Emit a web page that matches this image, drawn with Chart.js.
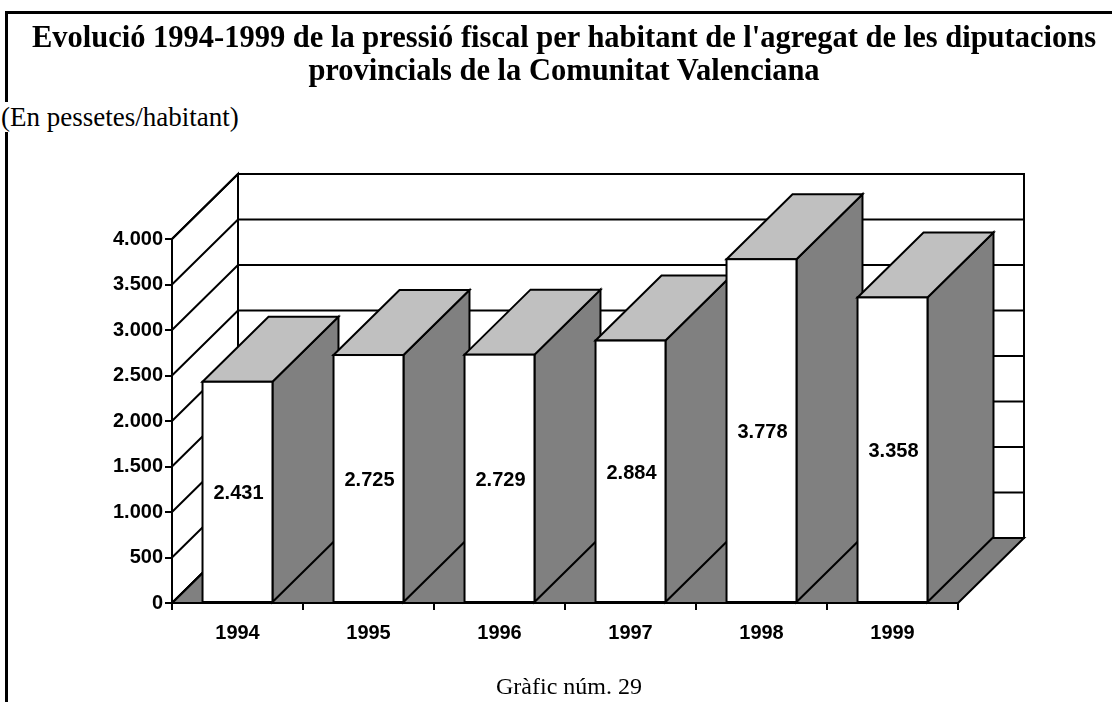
<!DOCTYPE html>
<html>
<head>
<meta charset="utf-8">
<script src="https://cdn.jsdelivr.net/npm/chart.js@4"></script>
<style>
  body { margin: 0; background: #fff; }
  #wrap { position: relative; width: 1112px; height: 702px; background: #fff; overflow: hidden; }
  #chart { position: absolute; left: 0; top: 0; }
  .frame { position: absolute; background: #000; }
  .txt { position: absolute; font-family: "Liberation Serif", "Times New Roman", serif; color: #000; white-space: nowrap; }
  #title { left: 0; width: 1128px; top: 21px; text-align: center; font-weight: bold; font-size: 30.5px; line-height: 33px; }
  #subtitle { left: 1px; top: 102px; font-size: 27px; line-height: 30px; background: #fff; }
  #caption { left: 0; width: 1138px; top: 672px; text-align: center; font-size: 24px; line-height: 28px; }
</style>
</head>
<body>
<div id="wrap">
  <div class="frame" style="left:5px;top:11px;width:1107px;height:3px"></div>
  <div class="frame" style="left:5px;top:11px;width:3px;height:691px"></div>
  <canvas id="chart" width="1112" height="702"></canvas>
  <div id="title" class="txt">Evolució 1994-1999 de la pressió fiscal per habitant de l'agregat de les diputacions<br>provincials de la Comunitat Valenciana</div>
  <div id="subtitle" class="txt">(En pessetes/habitant)</div>
  <div id="caption" class="txt">Gràfic núm. 29</div>
</div>
<script>
// data
const years = ['1994', '1995', '1996', '1997', '1998', '1999'];
const perHabitant = [2431, 2725, 2729, 2884, 3778, 3358];
const yMin = 0;
const yMax = 4000;
const yStep = 500;

// 3d look
const DX = 66, DY = -65;
const SIDE = '#808080', TOP = '#c0c0c0';
const axisFont = { family: "'Liberation Sans', Arial, sans-serif", size: 20, weight: 'bold' };

function fmt(v) {
    return String(v).replace(/\B(?=(\d{3})+(?!\d))/g, '.');
}

function poly(ctx, pts, fill) {
    ctx.beginPath();
    ctx.moveTo(pts[0][0], pts[0][1]);
    for (let i = 1; i < pts.length; i++) ctx.lineTo(pts[i][0], pts[i][1]);
    ctx.closePath();
    if (fill) { ctx.fillStyle = fill; ctx.fill(); }
    ctx.stroke();
}

const box3d = {
    id: 'box3d',
    beforeDraw(chart) {
        const ctx = chart.ctx, a = chart.chartArea, y = chart.scales.y;
        const top = y.getPixelForValue(yMax), bot = y.getPixelForValue(yMin);
        ctx.save();
        ctx.lineWidth = 2;
        ctx.strokeStyle = '#000';
        // back wall, left wall, floor
        poly(ctx, [[a.left + DX, top + DY], [a.right + DX, top + DY], [a.right + DX, bot + DY], [a.left + DX, bot + DY]], '#fff');
        poly(ctx, [[a.left, bot], [a.left, top], [a.left + DX, top + DY], [a.left + DX, bot + DY]], '#fff');
        poly(ctx, [[a.left, bot], [a.right, bot], [a.right + DX, bot + DY], [a.left + DX, bot + DY]], SIDE);
        // grid lines on the walls
        y.ticks.forEach(t => {
            const py = y.getPixelForValue(t.value);
            ctx.beginPath();
            ctx.moveTo(a.left, py);
            ctx.lineTo(a.left + DX, py + DY);
            ctx.lineTo(a.right + DX, py + DY);
            ctx.stroke();
        });
        // sides and tops of the bars
        chart.getDatasetMeta(0).data.forEach(bar => {
            const p = bar.getProps(['x', 'y', 'base', 'width'], true);
            const l = p.x - p.width / 2, r = p.x + p.width / 2;
            poly(ctx, [[r, p.y], [r + DX, p.y + DY], [r + DX, p.base + DY], [r, p.base]], SIDE);
            poly(ctx, [[l, p.y], [l + DX, p.y + DY], [r + DX, p.y + DY], [r, p.y]], TOP);
        });
        ctx.restore();
    },
    afterDatasetsDraw(chart) {
        const ctx = chart.ctx;
        ctx.save();
        ctx.lineWidth = 2;
        ctx.strokeStyle = '#000';
        chart.getDatasetMeta(0).data.forEach((bar, i) => {
            const p = bar.getProps(['x', 'y', 'base', 'width'], true);
            ctx.strokeRect(p.x - p.width / 2, p.y, p.width, p.base - p.y);
            ctx.fillStyle = '#000';
            ctx.font = 'bold 20px "Liberation Sans", Arial, sans-serif';
            ctx.textAlign = 'center';
            ctx.textBaseline = 'middle';
            ctx.fillText(fmt(perHabitant[i]), p.x + 1, (p.y + p.base) / 2 + 2);
        });
        ctx.restore();
    }
};

new Chart(document.getElementById('chart'), {
    type: 'bar',
    data: {
        labels: years,
        datasets: [{
            data: perHabitant,
            backgroundColor: '#fff',
            borderWidth: 0,
            categoryPercentage: 1,
            barPercentage: 0.534
        }]
    },
    options: {
        responsive: false,
        animation: false,
        devicePixelRatio: 1,
        layout: { padding: { left: 0, top: 239, right: 154, bottom: 0 } },
        plugins: { legend: { display: false }, tooltip: { enabled: false } },
        scales: {
            x: {
                offset: true,
                grid: { offset: true, drawOnChartArea: false, tickLength: 7, color: '#000', lineWidth: 2 },
                border: { color: '#000', width: 2 },
                ticks: { font: axisFont, color: '#000', padding: 11 },
                afterFit(s) { s.height = 99; }
            },
            y: {
                min: yMin,
                max: yMax,
                grid: { drawOnChartArea: false, tickLength: 7, color: '#000', lineWidth: 2 },
                border: { color: '#000', width: 2 },
                ticks: { stepSize: yStep, font: axisFont, color: '#000', padding: 2, callback: v => fmt(v) },
                afterFit(s) { s.width = 172; }
            }
        }
    },
    plugins: [box3d]
});
</script>
</body>
</html>
